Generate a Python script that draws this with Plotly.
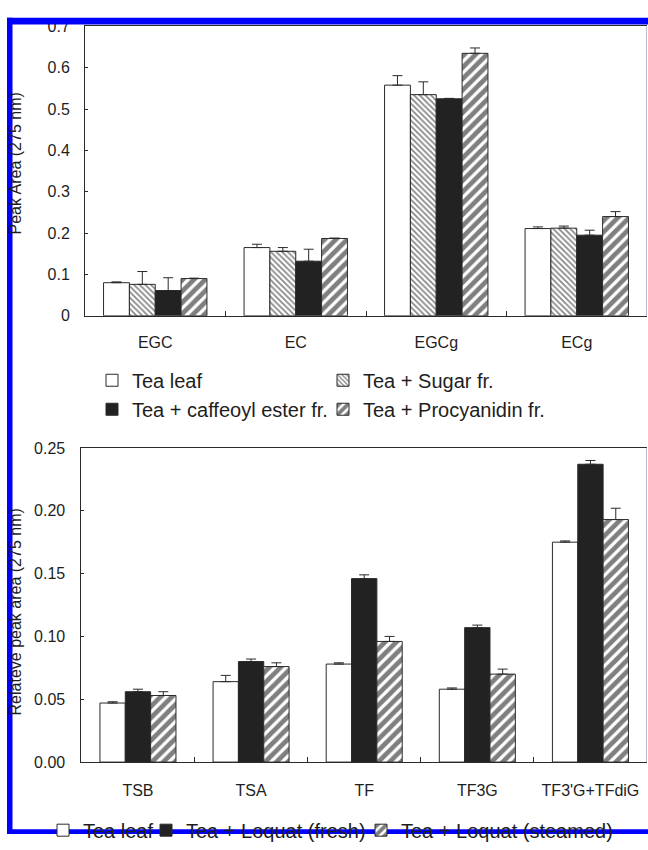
import plotly.graph_objects as go

W, H = 648, 850

# ---------------- data: top chart (catechins) ----------------
catechins = ["EGC", "EC", "EGCg", "ECg"]
tea_leaf = [0.080, 0.165, 0.558, 0.211]
tea_leaf_err = [0.002, 0.008, 0.023, 0.004]
tea_sugar = [0.076, 0.156, 0.535, 0.212]
tea_sugar_err = [0.031, 0.009, 0.031, 0.005]
tea_caffeoyl = [0.061, 0.132, 0.525, 0.195]
tea_caffeoyl_err = [0.031, 0.029, 0.001, 0.012]
tea_procyanidin = [0.090, 0.187, 0.635, 0.240]
tea_procyanidin_err = [0.001, 0.001, 0.013, 0.012]
top_names = ["Tea leaf", "Tea + Sugar fr.", "Tea + caffeoyl ester fr.", "Tea + Procyanidin fr."]
top_ticks = [0, 0.1, 0.2, 0.3, 0.4, 0.5, 0.6, 0.7]

# ---------------- data: bottom chart (theaflavins) ----------------
theaflavins = ["TSB", "TSA", "TF", "TF3G", "TF3'G+TFdiG"]
leaf2 = [0.047, 0.064, 0.078, 0.058, 0.175]
leaf2_err = [0.001, 0.005, 0.001, 0.001, 0.001]
fresh = [0.056, 0.080, 0.146, 0.107, 0.237]
fresh_err = [0.002, 0.002, 0.003, 0.002, 0.003]
steamed = [0.053, 0.076, 0.096, 0.070, 0.193]
steamed_err = [0.003, 0.003, 0.004, 0.004, 0.009]
bottom_names = ["Tea leaf", "Tea + Loquat (fresh)", "Tea + Loquat (steamed)"]
bottom_ticks = [0, 0.05, 0.10, 0.15, 0.20, 0.25]

FONT = "Liberation Sans, Arial, sans-serif"
INK = "#1e1e1e"
LINE = "#2a2a2a"


def px(x):
    return x / W


def py(y):
    return 1 - y / H


styles = [
    dict(color="white", pattern=None),
    dict(color="white", pattern=dict(shape="\\", size=4, solidity=0.45, fgcolor="#111111", bgcolor="white")),
    dict(color="#222222", pattern=None),
    dict(color="white", pattern=dict(shape="/", size=8, solidity=0.6, fgcolor="#000000", bgcolor="white")),
]
styles_b = [styles[0], styles[2], styles[3]]

fig = go.Figure()

# top chart bars
w_top = 0.184
series_top = [(tea_leaf, tea_leaf_err), (tea_sugar, tea_sugar_err),
              (tea_caffeoyl, tea_caffeoyl_err), (tea_procyanidin, tea_procyanidin_err)]
for i, ((vals, errs), name, st) in enumerate(zip(series_top, top_names, styles)):
    marker = dict(color=st["color"], line=dict(color=LINE, width=1))
    if st["pattern"]:
        marker["pattern"] = st["pattern"]
    fig.add_trace(go.Bar(
        x=catechins, y=vals, name=name, marker=marker,
        width=w_top, offset=-2 * w_top + i * w_top,
        error_y=dict(type="data", array=errs, arrayminus=[0] * len(errs), symmetric=False,
                     color=LINE, thickness=1, width=5),
        xaxis="x", yaxis="y", legend="legend",
    ))

# bottom chart bars
w_bot = 0.224
series_bot = [(leaf2, leaf2_err), (fresh, fresh_err), (steamed, steamed_err)]
lw = [58, 170, 235]
for i, ((vals, errs), name, st) in enumerate(zip(series_bot, bottom_names, styles_b)):
    marker = dict(color=st["color"], line=dict(color=LINE, width=1))
    if st["pattern"]:
        marker["pattern"] = st["pattern"]
    fig.add_trace(go.Bar(
        x=theaflavins, y=vals, name=name, marker=marker,
        width=w_bot, offset=-1.5 * w_bot + i * w_bot,
        error_y=dict(type="data", array=errs, arrayminus=[0] * len(errs), symmetric=False,
                     color=LINE, thickness=1, width=5),
        xaxis="x2", yaxis="y2", legend="legend2", legendwidth=lw[i],
    ))

axis_common = dict(showline=True, linecolor=LINE, linewidth=1, showgrid=False, zeroline=False,
                   tickcolor=LINE, tickfont=dict(family=FONT, size=16, color=INK))

fig.update_layout(
    width=W, height=H,
    margin=dict(l=0, r=0, t=0, b=0),
    paper_bgcolor="white", plot_bgcolor="white",
    font=dict(family=FONT, color=INK),
    barmode="overlay",
    showlegend=True,
    xaxis=dict(domain=[px(85), px(647)], anchor="y", type="category", mirror=True,
               ticks="inside", tickson="boundaries", ticklen=5, ticklabelstandoff=12, **axis_common),
    yaxis=dict(domain=[py(316.7), py(19)], anchor="x", range=[0, 0.7], tickvals=top_ticks,
               ticktext=[f"{v:g}" for v in top_ticks],
               ticks="inside", ticklen=3, ticklabelstandoff=11, **axis_common),
    xaxis2=dict(domain=[px(81.4), px(647)], anchor="y2", type="category", mirror=True,
                ticks="inside", tickson="boundaries", ticklen=5, ticklabelstandoff=14, **axis_common),
    yaxis2=dict(domain=[py(776), py(452.7)], anchor="x2", range=[0, 0.25], tickvals=bottom_ticks,
                ticktext=[f"{v:.2f}" for v in bottom_ticks],
                ticks="inside", ticklen=3, ticklabelstandoff=12, **axis_common),
    legend=dict(orientation="h", x=px(92), y=py(363), xanchor="left", yanchor="top",
                font=dict(family=FONT, size=20, color=INK), bgcolor="rgba(0,0,0,0)",
                entrywidth=186, itemwidth=30, traceorder="normal"),
    legend2=dict(orientation="h", x=px(43), y=py(826), xanchor="left", yanchor="top",
                 font=dict(family=FONT, size=20, color=INK), bgcolor="rgba(0,0,0,0)",
                 itemwidth=30, traceorder="normal"),
    annotations=[
        dict(text="Peak Area (275 nm)", x=px(15), y=py(160), xref="paper", yref="paper",
             textangle=-90, showarrow=False, xanchor="center", yanchor="middle",
             font=dict(family=FONT, size=16, color=INK)),
        dict(text="Relateve peak area (275 nm)", x=px(15), y=py(622), xref="paper", yref="paper",
             textangle=-90, showarrow=False, xanchor="center", yanchor="middle",
             font=dict(family=FONT, size=16, color=INK)),
    ],
    shapes=[
        # scanned-figure blue frame
        dict(type="rect", xref="paper", yref="paper", x0=px(7), x1=1, y0=py(17), y1=py(10),
             fillcolor="#0000ff", line=dict(width=0), layer="above"),
        dict(type="rect", xref="paper", yref="paper", x0=px(7), x1=px(12.5), y0=0, y1=py(10),
             fillcolor="#0000ff", line=dict(width=0), layer="above"),
        dict(type="rect", xref="paper", yref="paper", x0=px(7), x1=1, y0=0, y1=py(845),
             fillcolor="#0000ff", line=dict(width=0), layer="above"),
        # light right edges of the plot frames
        dict(type="line", xref="paper", yref="paper", x0=px(646.5), x1=px(646.5), y0=py(316.7), y1=py(19),
             line=dict(color="#b9bddc", width=1), layer="above"),
        dict(type="line", xref="paper", yref="paper", x0=px(646.5), x1=px(646.5), y0=py(776), y1=py(452.7),
             line=dict(color="#b9bddc", width=1), layer="above"),
    ],
)

fig.write_html("out.html")
